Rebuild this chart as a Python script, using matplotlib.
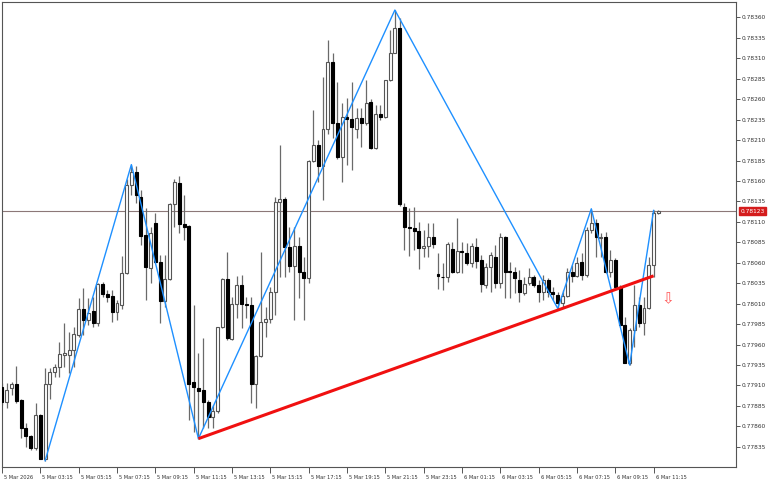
import matplotlib
matplotlib.use("Agg")
import matplotlib.pyplot as plt
import matplotlib.transforms as mtrans
import numpy as np

# M15 bars, 5 Mar 2026 01:15 -> 6 Mar 2026 11:30
opens = [0.77908, 0.77890, 0.77907, 0.77912, 0.77892, 0.77858, 0.77848, 0.77833, 0.77874, 0.77820,
         0.77912, 0.77926, 0.77932, 0.77947, 0.77947, 0.77953, 0.77972, 0.78003, 0.77990, 0.78001,
         0.77986, 0.78034, 0.78022, 0.78019, 0.78000, 0.78008, 0.78047, 0.78155, 0.78171, 0.78140,
         0.78094, 0.78053, 0.78109, 0.78061, 0.78013, 0.78040, 0.78132, 0.78157, 0.78107, 0.78105,
         0.77914, 0.77907, 0.77904, 0.77890, 0.77872, 0.77879, 0.77981, 0.78040, 0.77967, 0.78009,
         0.78033, 0.78010, 0.78008, 0.77912, 0.77946, 0.77987, 0.77991, 0.78024, 0.78134, 0.78138,
         0.78079, 0.78056, 0.78080, 0.78049, 0.78041, 0.78184, 0.78204, 0.78178, 0.78223, 0.78305,
         0.78231, 0.78189, 0.78238, 0.78236, 0.78224, 0.78237, 0.78231, 0.78256, 0.78200, 0.78242,
         0.78238, 0.78283, 0.78317, 0.78347, 0.78128, 0.78104, 0.78102, 0.78099, 0.78078, 0.78080,
         0.78091, 0.78046, 0.78043, 0.78042, 0.78077, 0.78049, 0.78074, 0.78072, 0.78060, 0.78079,
         0.78063, 0.78033, 0.78055, 0.78067, 0.78035, 0.78091, 0.78050, 0.78049, 0.78039, 0.78023,
         0.78035, 0.78042, 0.78033, 0.78024, 0.78039, 0.78024, 0.78021, 0.78011, 0.78019, 0.78049,
         0.78044, 0.78061, 0.78045, 0.78100, 0.78109, 0.78090, 0.78092, 0.78049, 0.78063, 0.78030,
         0.77984, 0.77937, 0.77978, 0.78008, 0.77986, 0.78005, 0.78057, 0.78121]
highs = [0.77913, 0.77913, 0.77914, 0.77934, 0.77894, 0.77864, 0.77849, 0.77888, 0.77875, 0.77931,
         0.77931, 0.77936, 0.77963, 0.77986, 0.77975, 0.77981, 0.78017, 0.78029, 0.78017, 0.78018,
         0.78035, 0.78036, 0.78027, 0.78027, 0.78014, 0.78068, 0.78162, 0.78180, 0.78178, 0.78149,
         0.78127, 0.78104, 0.78121, 0.78069, 0.78069, 0.78133, 0.78163, 0.78166, 0.78143, 0.78106,
         0.78008, 0.77950, 0.77968, 0.77892, 0.77886, 0.77982, 0.78041, 0.78073, 0.78018, 0.78044,
         0.78045, 0.78018, 0.78018, 0.77947, 0.78073, 0.78006, 0.78030, 0.78140, 0.78204, 0.78140,
         0.78104, 0.78104, 0.78091, 0.78067, 0.78186, 0.78247, 0.78210, 0.78287, 0.78332, 0.78316,
         0.78281, 0.78255, 0.78261, 0.78281, 0.78249, 0.78249, 0.78283, 0.78260, 0.78253, 0.78253,
         0.78284, 0.78344, 0.78369, 0.78359, 0.78133, 0.78127, 0.78128, 0.78110, 0.78100, 0.78109,
         0.78109, 0.78072, 0.78060, 0.78085, 0.78085, 0.78115, 0.78085, 0.78084, 0.78084, 0.78090,
         0.78069, 0.78060, 0.78073, 0.78082, 0.78096, 0.78093, 0.78061, 0.78055, 0.78051, 0.78042,
         0.78053, 0.78045, 0.78039, 0.78045, 0.78041, 0.78030, 0.78024, 0.78027, 0.78053, 0.78057,
         0.78067, 0.78072, 0.78104, 0.78126, 0.78113, 0.78096, 0.78098, 0.78076, 0.78066, 0.78033,
         0.77994, 0.77980, 0.78033, 0.78018, 0.78018, 0.78067, 0.78124, 0.78124]
lows = [0.77886, 0.77883, 0.77898, 0.77888, 0.77846, 0.77835, 0.77831, 0.77831, 0.77820, 0.77818,
        0.77894, 0.77920, 0.77920, 0.77932, 0.77925, 0.77932, 0.77969, 0.77972, 0.77984, 0.77981,
        0.77983, 0.78018, 0.78012, 0.77987, 0.77990, 0.78004, 0.78046, 0.78143, 0.78133, 0.78082,
        0.78014, 0.78035, 0.78060, 0.77986, 0.78006, 0.78039, 0.78104, 0.78096, 0.78088, 0.77868,
        0.77853, 0.77845, 0.77858, 0.77858, 0.77858, 0.77876, 0.77980, 0.77965, 0.77965, 0.77992,
        0.77980, 0.77992, 0.77888, 0.77883, 0.77945, 0.77969, 0.77986, 0.77996, 0.78042, 0.78042,
        0.78049, 0.77990, 0.78017, 0.77990, 0.78035, 0.78183, 0.78159, 0.78137, 0.78218, 0.78212,
        0.78187, 0.78159, 0.78179, 0.78173, 0.78212, 0.78201, 0.78229, 0.78199, 0.78199, 0.78234,
        0.78237, 0.78282, 0.78316, 0.78130, 0.78076, 0.78068, 0.78076, 0.78052, 0.78067, 0.78067,
        0.78078, 0.78028, 0.78027, 0.78036, 0.78047, 0.78047, 0.78047, 0.78057, 0.78055, 0.78053,
        0.78024, 0.78029, 0.78024, 0.78029, 0.78029, 0.78017, 0.78017, 0.78023, 0.78012, 0.78021,
        0.78033, 0.78030, 0.78012, 0.78014, 0.78018, 0.78014, 0.78004, 0.78006, 0.78018, 0.78036,
        0.78042, 0.78039, 0.78042, 0.78096, 0.78067, 0.78067, 0.78047, 0.78042, 0.78027, 0.77981,
        0.77937, 0.77935, 0.77957, 0.77981, 0.77972, 0.78004, 0.78042, 0.78120]
closes = [0.77890, 0.77905, 0.77912, 0.77891, 0.77858, 0.77848, 0.77833, 0.77874, 0.77820, 0.77912,
          0.77926, 0.77932, 0.77948, 0.77950, 0.77953, 0.77973, 0.78003, 0.77990, 0.77998, 0.77986,
          0.78034, 0.78022, 0.78018, 0.78000, 0.78011, 0.78047, 0.78155, 0.78171, 0.78143, 0.78093,
          0.78055, 0.78096, 0.78061, 0.78013, 0.78040, 0.78132, 0.78159, 0.78107, 0.78104, 0.77912,
          0.77908, 0.77903, 0.77890, 0.77872, 0.77879, 0.77981, 0.78040, 0.77968, 0.78009, 0.78033,
          0.78009, 0.78008, 0.77912, 0.77946, 0.77987, 0.77991, 0.78024, 0.78134, 0.78138, 0.78079,
          0.78056, 0.78080, 0.78049, 0.78041, 0.78184, 0.78204, 0.78178, 0.78223, 0.78305, 0.78231,
          0.78189, 0.78238, 0.78236, 0.78226, 0.78237, 0.78231, 0.78255, 0.78200, 0.78242, 0.78238,
          0.78283, 0.78317, 0.78347, 0.78132, 0.78104, 0.78102, 0.78099, 0.78078, 0.78080, 0.78091,
          0.78083, 0.78044, 0.78042, 0.78083, 0.78049, 0.78074, 0.78073, 0.78060, 0.78080, 0.78062,
          0.78034, 0.78055, 0.78069, 0.78035, 0.78091, 0.78049, 0.78049, 0.78041, 0.78024, 0.78034,
          0.78042, 0.78033, 0.78024, 0.78039, 0.78024, 0.78022, 0.78011, 0.78019, 0.78049, 0.78044,
          0.78060, 0.78045, 0.78100, 0.78109, 0.78091, 0.78092, 0.78049, 0.78063, 0.78030, 0.77984,
          0.77937, 0.77978, 0.78008, 0.77986, 0.78005, 0.78057, 0.78121, 0.78123]

# zigzag swing points (bar index, price)
zz_bars = [9, 27, 41, 82, 116, 123, 131, 136]
zz_prices = [0.77818, 0.78180, 0.77845, 0.78369, 0.78004, 0.78126, 0.77935, 0.78124]

# trend line
trend_bars = [41, 136]
trend_prices = [0.77845, 0.78044]

last_price = 0.78123
arrow_bar = 138.9
arrow_price = 0.78016

tick_labels = ["5 Mar 2026", "5 Mar 03:15", "5 Mar 05:15", "5 Mar 07:15", "5 Mar 09:15",
               "5 Mar 11:15", "5 Mar 13:15", "5 Mar 15:15", "5 Mar 17:15", "5 Mar 19:15",
               "5 Mar 21:15", "5 Mar 23:15", "6 Mar 01:15", "6 Mar 03:15", "6 Mar 05:15",
               "6 Mar 07:15", "6 Mar 09:15", "6 Mar 11:15"]
price_ticks = [0.77835 + 0.00025 * k for k in range(22)]

o = np.array(opens)
h = np.array(highs)
l = np.array(lows)
c = np.array(closes)
x = np.arange(len(o))
up = c >= o

fig = plt.figure(figsize=(7.68, 4.8), dpi=100)
ax = fig.add_axes([2 / 768, 13 / 480, 734 / 768, 465 / 480])

# wicks
ax.vlines(x, l, h, color="#6a6a6a", lw=0.9, zorder=2)

# bodies
body_lo = np.minimum(o, c)
body_h = np.maximum(np.abs(c - o), 0.000012)
ax.bar(x[up], body_h[up], bottom=body_lo[up], width=0.62, color="white",
       edgecolor="#555555", linewidth=0.8, zorder=3)
ax.bar(x[~up], body_h[~up], bottom=body_lo[~up], width=0.62, color="black",
       edgecolor="black", linewidth=0.8, zorder=3)

# current price line
ax.axhline(last_price, color="#8c7878", lw=0.8, zorder=1)

# zigzag and trend line
ax.plot(zz_bars, zz_prices, color="#1e90ff", lw=1.0, zorder=4)
ax.plot(trend_bars, trend_prices, color="#f01010", lw=2.2, zorder=5,
        solid_capstyle="butt")

ax.text(arrow_bar, arrow_price, "\u21e9", color="#ff5a5a", fontsize=11,
        ha="center", va="center", zorder=6)

ax.set_xlim(0.1, 153.2)
ax.set_ylim(0.778103, 0.783788)

# axes styling
for sp in ax.spines.values():
    sp.set_color("#555555")
    sp.set_linewidth(0.8)

ax.yaxis.tick_right()
ax.set_yticks(price_ticks)
ax.set_yticklabels(["%.5f" % p for p in price_ticks])
ax.tick_params(axis="y", direction="out", length=3, width=0.7, color="#555555",
               labelsize=4.2, labelcolor="#333333", pad=1)

ax.set_xticks(np.arange(0, 137, 8))
ax.set_xticklabels(tick_labels)
ax.tick_params(axis="x", direction="out", length=4, width=0.7, color="#555555",
               labelsize=3.7, labelcolor="#333333", pad=2)
offset = mtrans.ScaledTranslation(2 / 100, 0, fig.dpi_scale_trans)
for lab in ax.get_xticklabels():
    lab.set_horizontalalignment("left")
    lab.set_transform(lab.get_transform() + offset)

# price tag
ax.annotate("%.5f" % last_price, xy=(1.0, last_price),
            xycoords=("axes fraction", "data"), xytext=(3, 0),
            textcoords="offset points", ha="left", va="center",
            fontsize=4.2, color="white", annotation_clip=False,
            bbox=dict(boxstyle="square,pad=0.25", fc="#d41c1c", ec="#d41c1c"))

plt.savefig("out.png", dpi=100)
